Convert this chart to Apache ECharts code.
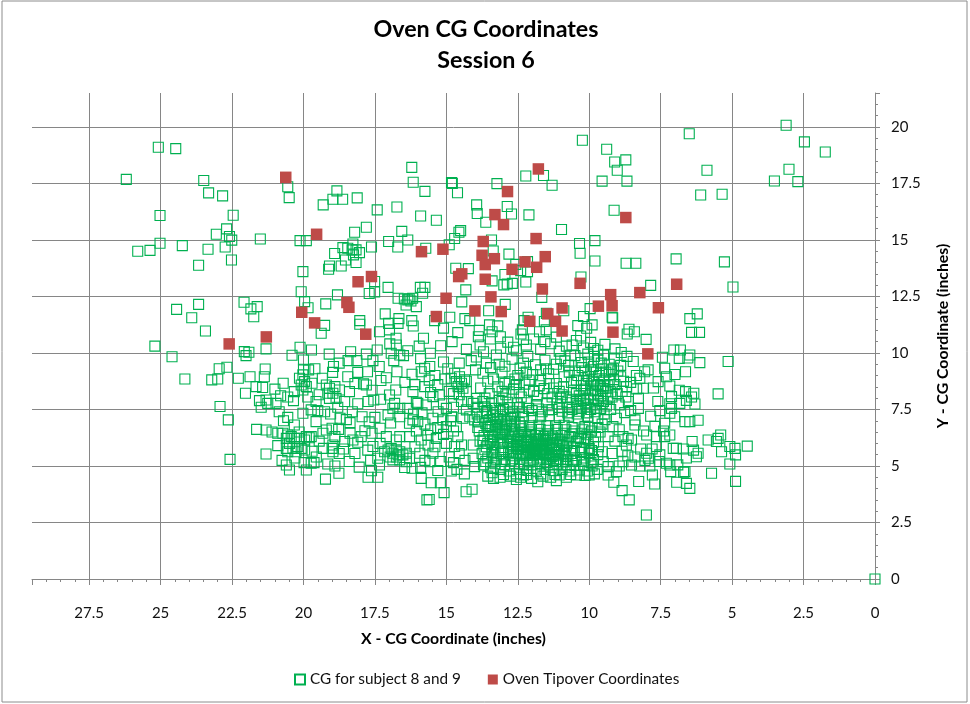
<!DOCTYPE html>
<html><head><meta charset="utf-8">
<style>html,body{margin:0;padding:0;background:#fff}#c{width:970px;height:704px}</style>
<script src="https://cdn.jsdelivr.net/npm/echarts@6/dist/echarts.min.js"></script>
</head><body><div id="c"></div>
<script>
const chartTitle = "Oven CG Coordinates\nSession 6";
const xName = "X - CG Coordinate (inches)";
const yName = "Y - CG Coordinate (inches)";
const seriesNames = ["CG for subject 8 and 9", "Oven Tipover Coordinates"];

const ovenTipover = [
[20.62,17.77],[19.54,15.25],[18.09,13.15],[17.62,13.38],[18.48,12.23],[18.41,12.02],[20.06,11.8],[19.61,11.33],[17.82,10.83],[21.3,10.71],[22.6,10.4],
[15.87,14.48],[15.12,14.59],[15.01,12.42],[15.35,11.61],[14.46,13.5],[14.57,13.38],[14.0,11.86],
[11.78,18.14],[12.86,17.14],[8.72,15.99],[13.3,16.12],[13.0,15.68],[11.86,15.06],[13.71,14.93],[13.75,14.32],[13.32,14.17],[13.64,13.91],[11.54,14.26],[12.25,14.03],[11.84,13.79],[12.7,13.7],[13.64,13.26],[10.32,13.08],[11.64,12.83],[6.94,13.04],[13.44,12.48],[9.25,12.58],[8.23,12.67],[9.68,12.07],[9.2,12.09],[7.58,12.0],[10.95,11.99],[13.08,11.83],[11.45,11.73],[12.08,11.4],[11.18,11.4],[10.95,10.97],[9.17,10.92],[7.95,9.96]
];

const cgUpperLeft = [
[0,0],[25.08,19.1],[24.47,19.04],[26.2,17.68],[23.49,17.63],[23.32,17.08],[22.83,16.95],[22.46,16.09],[25.02,16.08],[22.69,15.49],[23.05,15.25],[22.59,15.15],[22.51,14.99],[21.51,15.04],[25.02,14.85],[24.24,14.75],[25.37,14.54],[25.8,14.5],[23.34,14.59],[22.74,14.69],[23.67,13.88],[22.52,14.11],[23.67,12.15],[24.44,11.93],[23.91,11.56],[23.43,10.97],[22.08,12.24],[21.84,11.95],[21.62,12.05],[21.74,11.6],[20.55,17.35],[20.5,16.87],[18.83,17.17],[18.97,16.8],[18.63,16.8],[18.12,16.86],[19.31,16.55],[17.42,16.33],[16.73,16.46],[16.21,18.21],[16.16,17.55],[15.75,17.15],[15.9,16.06],[15.35,15.87],[17.8,15.56],[18.21,15.34],[16.56,15.38],[20.12,14.97],[19.9,14.97],[17.02,14.93],[16.35,15.0],[16.7,14.69],[15.72,14.63],[17.62,14.69],[18.62,14.66],[18.45,14.63],[18.27,14.82],[18.3,14.56],[18.16,14.56],[18.04,14.44],[18.53,14.11],[18.16,14.0],[18.91,14.4],[18.25,14.34],[19.09,13.85],[19.12,13.7],[18.68,13.85],[20.02,13.6],[20.08,12.71],[19.96,12.27],[19.84,12.0],[19.22,12.17],[18.81,12.57],[17.51,13.16],[17.51,12.7],[17.7,12.63],[17.04,12.9],[16.69,12.42],[16.47,12.39],[16.35,12.35],[16.18,12.42],[16.05,12.05],[16.41,12.12],[16.3,12.4],[16.24,12.3],[15.91,12.9],[15.75,12.9],[15.83,12.64],[17.14,11.73],[16.66,11.52],[17.02,11.31],[16.69,11.31],[16.21,11.43],[16.16,11.19],[18.03,11.43],[18.03,11.27],[19.26,11.22],[19.38,10.87],[17.34,10.94],[16.99,11.02],[16.76,10.65],[15.41,11.43],[15.8,10.65],[25.2,10.3],[24.6,9.83],[22.95,9.3],[24.15,8.85]
];

const cgUpperRight = [
[3.11,20.07],[6.5,19.7],[2.47,19.34],[1.74,18.89],[10.24,19.41],[9.39,19.01],[9.11,18.45],[8.72,18.54],[9.02,18.08],[5.88,18.08],[3.01,18.13],[3.52,17.61],[2.7,17.58],[9.55,17.6],[8.68,17.6],[6.1,16.99],[5.35,17.02],[9.13,16.31],[12.22,17.83],[11.6,17.85],[11.3,17.42],[13.23,17.49],[14.82,17.54],[14.79,17.5],[14.61,17.09],[13.94,16.55],[13.92,16.17],[12.87,16.48],[12.72,16.15],[12.11,16.11],[13.62,15.78],[10.97,15.46],[14.5,15.41],[14.56,15.34],[14.71,15.06],[14.9,14.79],[13.42,15.0],[13.36,14.51],[12.81,14.37],[10.34,14.84],[10.32,14.41],[9.8,14.97],[9.8,14.07],[8.71,13.97],[8.37,13.97],[6.96,14.16],[5.27,14.03],[10.29,13.36],[7.85,12.99],[4.97,12.92],[14.67,13.75],[14.23,13.73],[12.95,13.47],[13.4,13.19],[12.99,13.01],[12.87,13.05],[12.69,13.08],[12.22,13.14],[12.57,13.92],[12.4,13.64],[12.16,13.6],[12.16,14.04],[14.32,12.79],[14.46,12.26],[11.66,12.46],[12.94,12.15],[13.52,11.87],[14.88,11.58],[14.35,11.52],[14.18,11.43],[13.49,11.24],[13.4,10.94],[13.88,10.72],[13.11,10.72],[12.14,11.58],[12.28,11.43],[12.34,11.02],[12.39,10.84],[11.74,10.94],[11.5,11.75],[11.57,11.39],[11.51,11.02],[10.89,11.87],[9.97,11.96],[10.2,11.61],[10.4,11.21],[9.9,11.24],[10.09,11.09],[9.2,11.58],[9.18,11.55],[8.67,10.84],[8.61,11.05],[8.42,10.94],[8.01,10.6],[6.22,11.73],[6.48,11.52],[6.42,10.91],[6.14,10.91],[13.85,11.0],[13.2,11.2],[14.6,10.9],[15.1,11.1],[14.8,10.5]
];

const cgLowerLeft = [
[22.68,9.37],[23.21,8.81],[23.0,8.85],[22.28,8.88],[21.87,8.95],[21.34,9.29],[21.37,8.95],[22.03,8.22],[21.66,8.51],[21.43,8.47],[21.54,7.89],[21.31,7.92],[21.48,7.6],[21.25,7.77],[20.96,7.77],[20.8,8.11],[20.71,8.66],[22.92,7.63],[22.63,7.04],[21.64,6.62],[21.31,6.59],[22.57,5.29],[21.31,5.53],[22.07,10.06],[21.91,10.03],[22.01,9.88],[21.31,10.18],[20.12,10.25],[19.72,10.13],[20.0,9.69],[20.0,9.28],[19.82,9.25],[20.14,8.88],[20.02,9.03],[19.96,8.73],[20.08,8.58],[19.9,8.51],[20.02,8.36],[19.7,8.66],[20.32,8.29],[20.35,7.89],[19.34,8.88],[18.95,9.4],[18.98,9.14],[18.44,9.66],[18.13,9.66],[17.57,9.66],[17.42,10.13],[16.93,9.99],[16.63,9.91],[16.5,9.88],[16.84,9.66],[16.75,10.35],[16.98,10.4],[18.45,8.95],[18.1,9.14],[17.76,9.17],[17.29,8.78],[17.9,8.63],[16.73,9.17],[16.2,9.06],[15.88,9.17],[15.76,9.32],[15.58,9.4],[15.56,9.99],[15.2,10.32],[19.2,8.58],[19.09,8.44],[18.9,8.51],[19.15,8.22],[18.97,8.22],[19.09,7.99],[18.86,7.99],[18.74,8.36],[18.39,8.29],[18.56,7.85],[19.56,7.85],[19.73,7.48],[19.5,7.45],[19.26,7.4],[20.02,7.33],[20.55,7.15],[20.32,6.81],[17.74,7.85],[17.54,7.92],[17.8,8.58],[16.99,8.14],[16.77,8.36],[16.81,7.77],[16.87,7.55],[16.63,7.55],[17.04,7.26],[16.17,8.29],[16.0,7.77],[16.05,7.82],[15.76,8.51],[15.47,8.07],[15.24,8.14],[18.29,7.4],[17.95,7.18],[17.5,7.15],[18.72,7.11],[18.37,6.92],[17.32,6.67],[17.85,6.56],[18.37,6.45],[18.77,6.62],[19.2,6.59],[19.0,6.67],[19.32,6.45],[17.98,6.3],[18.27,6.15],[18.56,6.08],[19.56,6.96],[19.73,6.3],[19.9,6.3],[20.9,6.45],[20.72,6.45],[20.55,6.37],[20.6,6.22],[20.43,6.3],[20.32,6.22],[20.49,6.0],[20.6,5.78],[20.37,5.78],[20.2,5.86],[20.08,5.78],[20.55,5.63],[20.26,5.63],[19.96,6.15],[20.14,6.22],[19.8,6.25],[19.96,5.71],[19.3,5.78],[19.0,5.78],[18.97,5.63],[18.97,5.93],[20.6,5.04],[20.49,4.82],[19.9,4.82],[19.98,5.15],[19.73,5.12],[19.63,5.15],[19.15,5.09],[18.9,5.0],[18.76,4.68],[19.23,4.42],[17.74,4.5],[17.4,4.5],[17.62,4.79],[17.34,5.04],[17.4,5.34],[17.16,5.63],[17.04,5.71],[16.93,5.78],[16.87,5.56],[16.75,5.71],[16.69,5.49],[16.63,5.63],[16.52,5.49],[16.4,5.56],[16.87,5.27],[16.63,5.27],[16.29,5.34],[16.4,5.19],[16.97,5.4],[16.75,5.4],[15.88,4.45],[15.53,4.26],[15.21,4.26],[15.08,3.82],[15.68,3.5],[15.6,3.52],[15.9,4.94],[16.46,4.93],[14.83,4.78],[14.63,4.85],[14.37,4.65],[14.31,3.86],[14.1,3.97],[14.01,4.97],[15.58,5.19],[15.47,5.56],[15.93,5.56],[15.64,5.93],[15.88,6.15],[15.35,6.22],[15.0,6.0],[14.71,5.86],[14.47,5.93],[14.06,5.93],[14.06,5.34],[16.29,6.3],[16.63,6.3],[16.75,6.15],[17.32,6.0],[17.57,5.86],[15.47,7.11],[15.12,7.04],[15.29,7.4],[15.0,7.55],[14.82,7.18],[15.0,6.74],[14.65,6.74],[14.42,7.11],[14.18,7.18],[14.01,7.04],[14.3,7.48],[14.47,7.85],[14.06,7.77],[13.94,7.99],[14.83,8.88],[14.71,9.1],[14.54,8.95],[14.65,8.73],[14.47,8.66],[14.36,8.81],[14.59,8.51],[14.42,8.44],[14.3,8.29],[13.98,9.25],[14.3,10.16],[14.13,9.66],[16.17,7.04],[16.0,6.96],[16.29,6.89],[16.63,7.18],[15.6,8.8],[15.1,9.6],[15.3,8.6],[14.9,8.3],[15.7,7.7],[14.75,7.6],[15.55,6.6],[14.6,6.3],[14.9,5.4],[15.2,5.2],[14.35,5.25],
[20.85,7.4],[20.7,7.0],[19.85,8.05],[19.45,8.15],[18.2,8.65],[17.6,8.35],[17.1,8.9],[16.45,8.7],[16.1,8.6],[15.55,8.25],[15.05,8.85],[18.8,7.6],[18.1,7.75],[17.3,7.95],[16.35,7.55],[15.85,7.35],[15.1,7.75],[19.05,7.3],[18.5,7.05],[17.7,6.95],[16.95,6.9],[16.15,7.3],[15.75,6.85],[15.3,6.7],[14.85,7.0],[18.9,6.3],[18.1,6.05],[17.6,6.45],[17.1,6.3],[16.05,6.55],[15.65,6.35],[15.1,6.4],[14.75,6.55],[18.6,5.75],[18.2,5.55],[17.75,5.7],[17.65,5.25],[16.1,5.85],[15.75,5.25],[15.4,5.85],[14.55,5.55],[18.4,5.2],[18.05,4.95],[16.2,4.9],[15.3,4.8],[14.75,5.15],[21.1,6.5],[20.15,6.5],[19.55,5.4],[20.9,5.9],[20.3,5.35],[20.75,5.25],[19.7,5.65],[19.45,6.1],[18.75,5.55],[21.0,8.4],[20.55,8.05],[19.6,9.3],[18.75,9.55],[17.35,9.4],[16.35,10.1],[15.9,9.75],[15.4,9.0],[14.95,9.3],[14.55,9.55],[14.75,8.2],[14.3,8.75],[14.55,8.15],[14.25,7.85],[15.95,10.3],[17.8,9.95],[18.35,10.05],[20.4,9.9],[19.1,9.95]
];

const cgLowerRight = [
[4.47,5.88],[4.88,4.32],[5.14,9.62],[5.49,8.19],[6.13,9.57],[6.85,9.76],[7.04,10.13],[6.81,10.13],[6.48,9.91],[6.55,9.78],[7.44,9.81],[6.63,9.17],[7.36,9.32],[7.3,8.95],[7.59,8.73],[7.18,8.54],[7.12,8.07],[6.63,8.29],[6.34,8.22],[6.3,7.74],[6.83,7.77],[7.18,7.75],[7.12,7.55],[7.53,7.45],[7.18,7.33],[7.01,7.18],[7.36,6.89],[6.19,7.02],[6.48,6.96],[6.65,6.96],[5.72,4.68],[5.84,6.15],[5.49,6.22],[5.4,6.37],[5.55,6.08],[5.37,5.63],[5.08,5.86],[4.9,5.78],[4.88,5.49],[5.08,5.09],[6.25,5.41],[6.19,5.56],[6.4,6.08],[6.71,5.75],[6.95,5.78],[6.65,4.75],[6.7,4.72],[7.15,4.75],[7.18,5.04],[6.94,4.28],[6.6,4.23],[6.48,4.01],[7.71,4.2],[8.27,4.31],[7.79,4.6],[8.0,2.83],[8.6,3.5],[8.85,3.91],[9.14,4.28],[7.99,5.56],[7.93,5.34],[7.53,5.49],[7.65,5.86],[7.36,6.3],[7.99,6.37],[7.65,6.3],[7.18,6.37],[7.06,5.78],[7.3,5.12],[7.88,5.0],[8.23,5.0],[8.52,5.04],[8.82,5.19],[8.82,6.3],[8.64,6.22],[8.52,6.15],[8.7,5.93],[8.4,6.81],[8.4,7.04],[8.76,7.36],[9.05,7.11],[8.28,7.55],[8.28,7.99],[8.63,7.85],[8.11,8.44],[8.34,8.41],[8.7,8.51],[7.94,9.25],[8.06,9.17],[8.46,9.62],[8.23,8.88],[8.68,9.85],[9.17,6.74],[9.34,6.3],[9.54,5.63],[9.51,5.19],[9.34,4.97],[9.34,4.6],[6.42,8.05],[6.6,7.9],[8.9,8.95],[8.55,8.7],[8.85,8.3],[9.1,8.6],[9.2,8.05],[8.95,7.7],[9.25,7.5],[9.45,7.05],[8.95,6.6],[9.1,6.1],[9.2,5.55],[8.85,5.65],
[8.55,7.45],[8.72,8.05],[9.02,8.2],[8.8,8.75],[8.35,9.0],[7.75,8.45],[7.6,7.85],[7.85,7.2],[7.7,6.75],[7.4,6.55],[8.1,6.55],[8.2,5.75],[7.8,5.75],[7.55,5.2],[8.05,5.25],[8.4,5.4],[8.65,5.45],[6.9,5.05],[6.6,5.35],[6.35,5.7],[6.85,8.35],[7.0,9.05],[8.95,5.0],[9.05,4.75],[9.0,9.2],[9.15,9.3]
];

const cgCenterUpper = [
[13.82,10.35],[13.46,10.62],[13.1,10.21],[12.85,10.48],[12.55,10.1],[12.2,10.35],[11.95,10.62],[11.7,10.15],[11.35,10.41],[11.05,10.08],[10.8,10.3],[10.45,10.55],[10.2,10.22],[9.95,10.47],[9.7,10.12],[9.45,10.38],[9.1,10.18],[8.88,10.02],
[13.95,9.82],[13.6,9.55],[13.25,9.91],[12.95,9.41],[12.7,9.72],[12.42,9.33],[12.15,9.85],[11.88,9.48],[11.55,9.68],[11.25,9.28],[11.0,9.75],[10.72,9.45],[10.5,9.88],[10.28,9.58],[10.05,9.95],[9.85,9.4],[9.7,9.7],[9.5,9.9],[9.3,9.5],[9.12,9.78],[8.9,9.45],[10.15,9.2],[9.95,9.25],
[13.72,9.1],[13.35,8.85],[13.05,9.15],[12.8,8.72],[12.5,9.0],[12.25,8.62],[11.98,9.05],[11.7,8.78],[11.42,9.08],[11.15,8.65],[10.88,8.95],[10.62,8.7],[10.4,9.0],[10.2,8.78],[10.02,8.95],[9.85,8.72],[9.65,9.0],[9.48,8.8],[9.3,9.05],[9.15,8.82],[9.75,9.15],[9.55,9.3],[9.95,8.55],[9.6,8.5],[9.35,8.55],
[13.8,8.45],[13.5,8.2],[13.2,8.5],[12.92,8.15],[12.65,8.4],[12.38,8.05],[12.1,8.35],[11.82,8.1],[11.58,8.42],[11.3,8.05],[11.05,8.3],[10.8,8.05],[10.55,8.35],[10.35,8.1],[10.15,8.4],[9.95,8.15],[9.78,8.32],[9.6,8.1],[9.42,8.3],[9.25,8.28],[10.05,8.0],[9.85,7.95],[9.68,7.9],[9.5,7.85],[9.35,8.0],
[13.9,7.6],[13.72,7.85],[13.58,7.45],[13.42,7.8],[13.28,7.55],[13.15,7.9],[13.0,7.5],[12.85,7.82],[12.68,7.42],[12.52,7.75],[12.35,7.4],[12.18,7.8],[12.0,7.45],[11.85,7.72],[11.65,7.4],[11.48,7.8],[11.3,7.5],[11.12,7.75],[10.95,7.42],[10.78,7.8],[10.6,7.5],[10.45,7.85],[10.28,7.55],[10.12,7.75],[9.95,7.5],[9.8,7.7],[9.62,7.55],[9.48,7.3],[10.3,7.95],[11.0,8.0],
[13.75,7.2],[13.6,7.35],[13.48,7.05],[13.35,7.25],[13.22,6.95],[13.1,7.2],[12.98,7.0],[12.85,7.3],[12.72,6.98],[12.6,7.2],[12.45,6.92],[13.62,6.88],[13.88,6.95],[13.4,6.8],[13.15,6.72],[12.9,6.78],
[10.25,9.35],[10.5,9.2],[10.02,9.6],[9.82,9.85],[9.58,9.55],[9.42,9.15],[9.22,9.25],[10.1,8.65],[9.9,8.85],[9.7,8.6],[9.5,8.55],[9.3,8.75],[9.88,8.35],[9.7,8.22],[9.52,8.42],[10.28,8.55],[10.45,8.8],[10.7,9.15],[9.75,7.55],[9.55,7.75],[9.4,7.65],[10.05,7.6],[10.2,7.9],[10.4,7.65],[10.6,7.95],[12.95,8.65],[13.55,8.75],[11.75,8.55],[11.25,8.45],[12.1,8.8],[12.6,8.85],[11.5,9.3],[12.3,9.55]
];

const cgCenterCore = [
[12.3,7.2],[12.0,7.15],[11.7,7.18],[11.4,7.22],[11.05,7.15],[10.72,7.2],[10.38,7.12],[10.05,7.2],[9.7,7.1],[9.55,6.85],
[13.85,6.55],[13.68,6.35],[13.52,6.6],[13.38,6.3],[13.22,6.5],[13.08,6.25],[12.92,6.55],[12.78,6.28],[12.62,6.6],[12.48,6.32],[12.32,6.65],[12.18,6.3],[12.02,6.6],[11.88,6.35],[11.72,6.62],[11.58,6.3],[11.42,6.58],[11.28,6.28],[11.12,6.62],[10.98,6.35],[10.82,6.6],[10.68,6.3],[10.52,6.55],[10.38,6.28],[10.22,6.6],[10.08,6.38],[9.92,6.55],[9.78,6.3],[9.62,6.5],
[13.82,6.1],[13.6,5.85],[13.45,6.1],[13.3,5.8],[13.15,6.05],[13.0,5.82],[12.85,6.1],[12.7,5.78],[12.55,6.08],[12.42,5.85],[12.28,6.12],[12.15,5.82],[12.02,6.08],[11.9,5.78],[11.78,6.1],[11.65,5.85],[11.52,6.12],[11.4,5.8],[11.28,6.05],[11.15,5.78],[11.02,6.1],[10.9,5.85],[10.75,6.05],[10.6,5.8],[10.45,6.08],[10.3,5.82],[10.15,6.05],[10.0,5.78],[9.85,6.05],[9.68,5.85],
[13.75,5.55],[13.55,5.35],[13.4,5.6],[13.25,5.3],[13.1,5.55],[12.95,5.28],[12.82,5.6],[12.68,5.32],[12.55,5.58],[12.42,5.3],[12.3,5.62],[12.18,5.35],[12.05,5.6],[11.95,5.3],[11.82,5.58],[11.7,5.35],[11.6,5.62],[11.48,5.3],[11.38,5.58],[11.25,5.32],[11.12,5.6],[11.0,5.3],[10.88,5.55],[10.75,5.28],[10.6,5.55],[10.45,5.3],[10.3,5.6],[10.15,5.35],[10.0,5.55],[9.85,5.28],[9.7,5.5],
[13.7,5.05],[13.45,4.92],[13.3,5.1],[13.1,4.85],[12.95,5.05],[12.8,4.78],[12.62,5.1],[12.45,4.85],[12.3,5.08],[12.15,4.8],[12.0,5.05],[11.85,4.78],[11.7,5.1],[11.55,4.85],[11.4,5.05],[11.25,4.8],[11.1,5.08],[10.95,4.85],[10.8,5.05],[10.65,4.78],[10.5,5.02],[10.35,4.82],[10.2,5.05],[10.05,4.78],[9.9,5.0],[9.72,4.85],
[13.55,4.55],[13.35,4.45],[13.12,4.5],[12.75,4.55],[12.3,4.6],[12.02,4.45],[11.8,4.3],[11.62,4.55],[11.35,4.5],[11.05,4.6],[10.8,4.5],[10.45,4.6],[10.15,4.58],[9.82,4.65],[12.55,4.4],[11.15,4.35],
[12.1,6.15],[12.2,5.95],[11.95,5.95],[11.8,5.9],[11.62,5.98],[11.45,5.95],[11.5,5.7],[11.7,5.72],[11.9,5.68],[12.12,5.7],[12.28,5.85],[11.32,5.72],[11.15,5.92],[11.05,5.7],[10.85,5.7],[12.4,6.05],[12.55,5.9],[12.7,5.95],[12.05,6.4],[11.85,6.2],[11.6,6.2],[11.35,6.2],[11.1,6.2],[10.95,6.05],[12.25,6.4],[12.5,6.2],[12.75,6.15],[13.0,6.0],[13.2,6.15],[13.4,5.95],[13.55,6.0],
[13.2,7.1],[13.05,6.85],[12.88,6.95],[12.75,7.1],[12.6,6.85],[13.3,6.6],[13.45,6.75],[13.12,6.45],[12.95,6.4],[12.7,6.45],[10.1,7.35],[10.42,7.3],[10.75,7.35],[9.8,7.4],[10.15,6.75],[10.0,6.7],[9.7,6.7]
];

const cgCenterDense = [
[13.92,7.3],[13.66,7.62],[13.38,7.38],[13.12,7.42],[12.78,7.58],[12.44,7.58],[12.12,7.55],[11.78,7.52],[11.42,7.48],[11.05,7.58],[10.7,7.58],[10.35,7.42],
[13.9,6.7],[13.58,6.7],[13.28,6.82],[13.02,6.62],[12.72,6.78],[12.4,6.78],[12.08,6.78],[11.76,6.8],[11.48,6.78],[11.18,6.78],[10.88,6.8],[10.6,6.7],[10.28,6.45],
[13.72,6.15],[13.34,6.15],[13.04,6.38],[12.66,6.3],[12.38,6.5],[12.08,6.5],[11.76,6.45],[11.46,6.42],[11.18,6.45],[10.88,6.45],[10.58,6.42],[10.3,6.22],[10.04,6.18],
[13.65,5.72],[13.34,5.45],[13.04,5.65],[12.76,5.62],[12.48,5.72],[12.22,5.48],[11.98,5.48],[11.74,5.5],[11.52,5.48],[11.3,5.5],[11.08,5.48],[10.82,5.42],[10.52,5.68],[10.22,5.72],[9.92,5.68],
[13.62,5.2],[13.36,5.22],[13.06,5.2],[12.74,5.22],[12.44,5.12],[12.1,5.18],[11.8,5.2],[11.5,5.15],[11.18,5.2],[10.9,5.18],[10.58,5.22],[10.26,5.2],[9.94,5.15],
[13.4,4.7],[13.0,4.62],[12.55,4.65],[12.2,4.62],[11.7,4.65],[11.2,4.62],[10.65,4.62],[10.0,4.6],[12.4,4.5],
[12.02,5.85],[11.88,6.02],[11.7,5.95],[11.55,5.9],[11.4,6.02],[11.25,5.92],[11.85,5.78],[11.6,5.75],[12.0,5.72],[12.15,6.05],[12.35,5.95],[12.5,5.78],[12.65,5.85],[11.05,5.95],[10.8,5.92],
[11.9,5.55],[11.75,5.65],[11.55,5.55],[11.3,5.42],[11.4,5.35],[12.2,5.55],[12.35,5.45],[12.65,5.45],
[13.65,8.0],[13.02,8.0],[12.45,8.25],[11.95,8.3],[11.45,8.2],[10.95,8.15],[10.45,8.2],[13.05,8.3],[12.55,8.6],[11.4,8.65],[10.9,8.5],[13.45,9.35],[13.15,9.5],[12.2,9.15],[11.7,9.25],[11.15,9.5],[10.85,9.65],[10.65,9.9],[13.7,10.05],[12.65,10.25],[12.3,10.6],[11.55,10.5],[11.15,10.7],[10.6,10.35],[10.3,10.75],[9.85,10.2]
];

const cgSubject = [].concat(cgUpperLeft, cgUpperRight, cgLowerLeft, cgLowerRight, cgCenterUpper, cgCenterCore, cgCenterDense);

const font = "Lato";
const gridColor = "#868686";
const labelColor = "#111";
const chart = echarts.init(document.getElementById("c"), null, {renderer: "canvas"});
chart.setOption({
  animation: false,
  backgroundColor: "#fff",
  graphic: [{type: "rect", silent: true, z: -1,
    shape: {x: 2, y: 1, width: 965, height: 701},
    style: {fill: "#fff", stroke: "#8c8c8c", lineWidth: 1}}],
  title: {text: chartTitle, left: 481, top: 9, textAlign: "center",
    textStyle: {fontFamily: font, fontWeight: "bold", fontSize: 23.3, lineHeight: 31, color: "#000"}},
  legend: {
    top: 667, left: 289, itemGap: 27, itemWidth: 10, itemHeight: 10, selectedMode: false,
    textStyle: {fontFamily: font, fontSize: 15.3, color: labelColor},
    data: [{name: seriesNames[0], icon: "rect"}, {name: seriesNames[1], icon: "rect"}]
  },
  grid: {left: 32, right: 95, top: 93, bottom: 125},
  xAxis: {
    type: "value", inverse: true, min: 0, max: 29.5, interval: 2.5,
    name: xName, nameLocation: "middle", nameGap: 52,
    nameTextStyle: {fontFamily: font, fontWeight: "bold", fontSize: 15.8, color: "#000"},
    axisLine: {show: true, onZero: false, lineStyle: {color: gridColor, width: 1}},
    axisTick: {show: true, length: 6, lineStyle: {color: gridColor}},
    minorTick: {show: true, splitNumber: 5, length: 3, lineStyle: {color: gridColor}},
    axisLabel: {fontFamily: font, fontSize: 15, color: labelColor, margin: 27, showMaxLabel: false, hideOverlap: false},
    splitLine: {show: true, showMaxLine: false, lineStyle: {color: gridColor, width: 1}},
    minorSplitLine: {show: false}
  },
  yAxis: {
    type: "value", position: "right", min: 0, max: 21.5, interval: 2.5,
    name: yName, nameLocation: "middle", nameGap: 60, nameRotate: 90,
    nameTextStyle: {fontFamily: font, fontWeight: "bold", fontSize: 15.8, color: "#000"},
    axisLine: {show: true, onZero: false, lineStyle: {color: gridColor, width: 1}},
    axisTick: {show: true, length: 5, lineStyle: {color: gridColor}},
    minorTick: {show: true, splitNumber: 5, length: 3, lineStyle: {color: gridColor}},
    axisLabel: {fontFamily: font, fontSize: 15, color: labelColor, margin: 16, showMaxLabel: false},
    splitLine: {show: true, showMaxLine: false, lineStyle: {color: gridColor, width: 1}}
  },
  series: [
    {name: seriesNames[0], type: "scatter", data: cgSubject, symbol: "rect", symbolSize: 10, clip: false, z: 2,
     itemStyle: {color: "rgba(255,255,255,0)", borderColor: "#00B050", borderWidth: 1.1, opacity: 1}},
    {name: seriesNames[1], type: "scatter", data: ovenTipover, symbol: "rect", symbolSize: 11.5, clip: false, z: 3,
     itemStyle: {color: "#BE4B48", borderWidth: 0, opacity: 1}}
  ]
});
</script></body></html>
